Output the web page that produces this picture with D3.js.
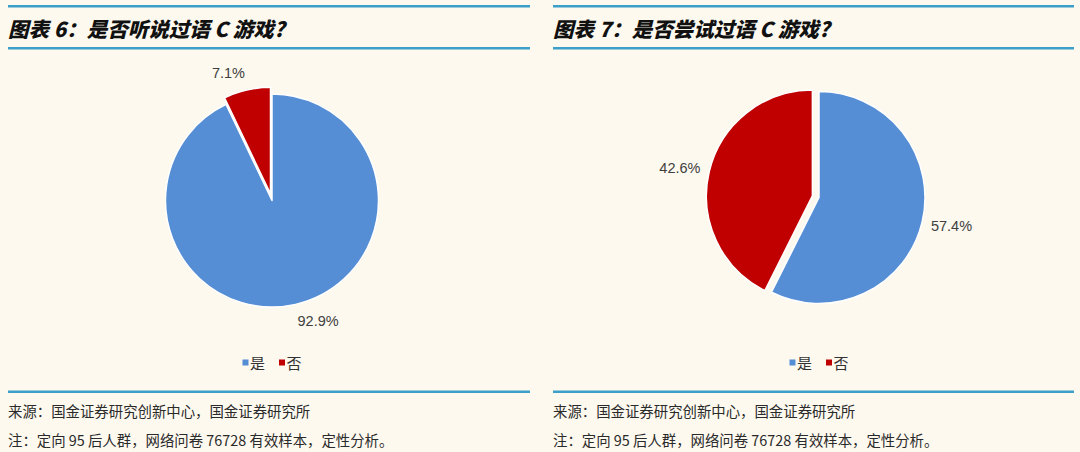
<!DOCTYPE html>
<html>
<head>
<meta charset="utf-8">
<script src="https://cdn.jsdelivr.net/npm/d3@7"></script>
<style>
  body { margin: 0; background: #fdf9ef; }
  svg { display: block; }
</style>
</head>
<body>
<svg id="chart" width="1080" height="452"></svg>
<script>
// data
const categories = ["是", "否"];
const heardValues = [92.9, 7.1];
const triedValues = [57.4, 42.6];
const chartTitles = ["图表 6：是否听说过语 C 游戏?", "图表 7：是否尝试过语 C 游戏?"];
const sourceNote = "来源：国金证券研究创新中心，国金证券研究所";
const sampleNote = "注：定向 95 后人群，网络问卷 76728 有效样本，定性分析。";

const colors = d3.scaleOrdinal().domain(categories).range(["#558ed5", "#c00000"]);
const lineColor = "#3b9fca";
const cjk = "'Noto Sans CJK SC', 'Noto Sans', sans-serif";

const svg = d3.select("#chart");
svg.append("rect").attr("width", 1080).attr("height", 452).attr("fill", "#fdf9ef");

function piePanel(x0, x1, title, values, cx, cy, radius) {
    const g = svg.append("g");

    // rules
    [6.2, 48.2, 391.7].forEach(y => {
        g.append("line")
            .attr("x1", x0).attr("x2", x1)
            .attr("y1", y).attr("y2", y)
            .attr("stroke", lineColor)
            .attr("stroke-width", 2.6);
    });

    // title
    g.append("text")
        .attr("x", x0).attr("y", 27.5)
        .attr("dominant-baseline", "central")
        .style("font-family", cjk)
        .style("font-size", "20.5px")
        .style("font-weight", 900)
        .style("font-style", "italic")
        .attr("fill", "#111")
        .text(title);

    // pie
    const data = categories.map((c, i) => ({ name: c, value: values[i] }));
    const pie = d3.pie().sort(null).value(d => d.value);
    const arc = d3.arc().innerRadius(0).outerRadius(radius);
    const explode = 6.8;

    const slices = g.append("g")
        .attr("transform", "translate(" + cx + "," + cy + ")")
        .selectAll("g")
        .data(pie(data)).enter()
        .append("g");

    slices.append("path")
        .attr("d", arc)
        .attr("transform", d => {
            if (d.data.name !== "否") return null;
            const a = (d.startAngle + d.endAngle) / 2;
            return "translate(" + (Math.sin(a) * explode) + "," + (-Math.cos(a) * explode) + ")";
        })
        .attr("fill", d => colors(d.data.name))
        .attr("stroke", "#ffffff")
        .attr("stroke-width", 1.5)
        .attr("stroke-linejoin", "round");

    // outside-end labels
    slices.append("text")
        .style("font-family", "'Liberation Sans', Arial, sans-serif")
        .style("font-size", "14.5px")
        .attr("fill", "#404040")
        .attr("text-anchor", "middle")
        .attr("dominant-baseline", "central")
        .text(d => d.data.value.toFixed(1) + "%")
        .each(function (d) {
            const a = (d.startAngle + d.endAngle) / 2;
            const w = this.getComputedTextLength();
            const h = 16;
            const r = radius + 9 + (d.data.name === "否" ? explode : 0);
            const px = Math.sin(a) * r + Math.sign(Math.sin(a)) * w / 2;
            const py = -Math.cos(a) * r - Math.cos(a) * h / 2;
            d3.select(this).attr("x", px).attr("y", py);
        });

    // legend
    const legend = g.append("g").attr("transform", "translate(" + cx + ",362.5)");
    const items = legend.selectAll("g").data(categories).enter().append("g");
    items.append("rect")
        .attr("width", 6).attr("height", 6)
        .attr("y", -3)
        .attr("fill", d => colors(d));
    items.append("text")
        .attr("x", 7.5)
        .attr("dominant-baseline", "central")
        .style("font-family", cjk)
        .style("font-size", "15px")
        .attr("fill", "#333")
        .text(d => d);
    let off = 0;
    const widths = [];
    items.each(function () { widths.push(this.getBBox().width); });
    const gap = 14;
    const total = d3.sum(widths) + gap * (widths.length - 1);
    items.attr("transform", (d, i) => {
        const t = "translate(" + (-total / 2 + off) + ",0)";
        off += widths[i] + gap;
        return t;
    });

    // notes
    g.append("text")
        .attr("x", x0).attr("y", 410.5)
        .attr("dominant-baseline", "central")
        .style("font-family", cjk)
        .style("font-size", "14.4px")
        .attr("fill", "#2a2a2a")
        .text(sourceNote);
    g.append("text")
        .attr("x", x0).attr("y", 439.5)
        .attr("dominant-baseline", "central")
        .style("font-family", cjk)
        .style("font-size", "14.4px")
        .attr("fill", "#2a2a2a")
        .text(sampleNote);
}

piePanel(8, 530, chartTitles[0], heardValues, 272, 200.5, 106.5);
piePanel(553, 1074, chartTitles[1], triedValues, 819, 197.5, 106);
</script>
</body>
</html>
